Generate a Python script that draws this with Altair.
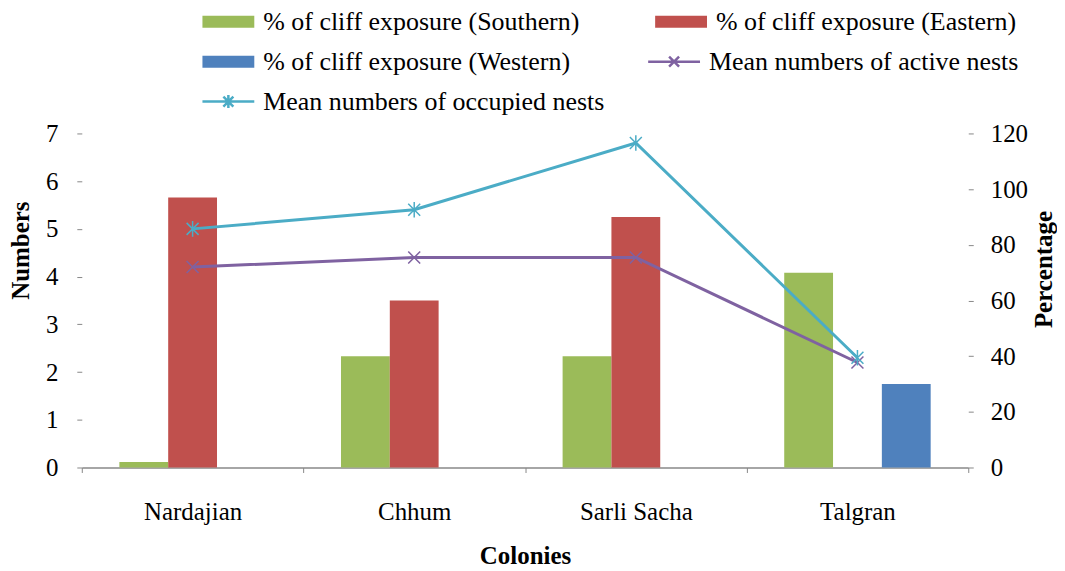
import altair as alt
import pandas as pd

colonies = ["Nardajian", "Chhum", "Sarli Sacha", "Talgran"]
southern = [2, 40, 40, 70]
eastern = [97, 60, 90, 0]
western = [0, 0, 0, 30]
active_nests = [4.2, 4.4, 4.4, 2.2]
occupied_nests = [5.0, 5.4, 6.8, 2.3]

bar_series = ["% of cliff exposure (Southern)", "% of cliff exposure (Eastern)", "% of cliff exposure (Western)"]
line_series = ["Mean numbers of active nests", "Mean numbers of occupied nests"]
bar_colors = ["#9BBB59", "#C0504D", "#4F81BD"]
line_colors = ["#7F62A1", "#4BACC6"]

bar_rows = []
for s, vals in zip(bar_series, [southern, eastern, western]):
    for c, v in zip(colonies, vals):
        bar_rows.append({"colony": c, "series": s, "percentage": v})
bar_df = pd.DataFrame(bar_rows)

line_rows = []
for s, vals in zip(line_series, [active_nests, occupied_nests]):
    for c, v in zip(colonies, vals):
        line_rows.append({"colony": c, "series": s, "numbers": v})
line_df = pd.DataFrame(line_rows)

FONT = "Liberation Serif"
LEGFONT = {"expr": "'Liberation Serif'"}
FS = 25
LFS = 26

X_PATH = "M-1,-1L1,1M-1,1L1,-1"
STAR_PATH = "M-1,-1L1,1M-1,1L1,-1M0,-1.3V1.3"
LEG_RECT = "M-1,-0.6H4.2V0.6H-1Z"
LEG_X = "M-1,0H4.2M1.1,-0.5L2.1,0.5M1.1,0.5L2.1,-0.5"
LEG_STAR = "M-1,0H4.2M1.1,-0.5L2.1,0.5M1.1,0.5L2.1,-0.5M1.6,-0.65V0.65"

x_enc = alt.X(
    "colony:N", sort=colonies,
    scale=alt.Scale(paddingInner=0, paddingOuter=0),
    axis=alt.Axis(title="Colonies", labelAngle=0, tickBand="extent", tickSize=5,
                  labelPadding=27, titlePadding=19, domainColor="#888888", domainWidth=1.5,
                  tickColor="#888888", labelFont=FONT, titleFont=FONT, labelFontSize=FS,
                  titleFontSize=FS, titleFontWeight="bold", labelColor="black", titleColor="black"),
)

bars = alt.Chart(bar_df).mark_bar().encode(
    x=x_enc,
    xOffset=alt.XOffset("series:N", sort=bar_series,
                        scale=alt.Scale(domain=bar_series, paddingInner=0, paddingOuter=0.77)),
    y=alt.Y("percentage:Q", scale=alt.Scale(domain=[0, 120], nice=False),
            axis=alt.Axis(orient="right", title="Percentage", values=[0, 20, 40, 60, 80, 100, 120],
                          titleAngle=270, titleBaseline="top", titleY=136, domain=False, grid=False,
                          tickSize=5, tickColor="#888888",
                          labelPadding=17, titlePadding=4, labelFont=FONT, titleFont=FONT,
                          labelFontSize=FS, titleFontSize=FS, titleFontWeight="bold",
                          labelColor="black", titleColor="black")),
    color=alt.Color("series:N", sort=bar_series,
                    scale=alt.Scale(domain=bar_series, range=bar_colors),
                    legend=alt.Legend(title=None, orient="none", legendX=118, legendY=-125, columns=2,
                                      values=[bar_series[0], bar_series[2], bar_series[1]],
                                      columnPadding=72, rowPadding=14, labelFont=LEGFONT,
                                      labelFontSize=LFS, labelColor="black", labelLimit=1000,
                                      symbolSize=400, labelOffset=38, symbolType=LEG_RECT,
                                      symbolStrokeWidth=0)),
)

y_left = alt.Y("numbers:Q", scale=alt.Scale(domain=[0, 7], nice=False),
               axis=alt.Axis(orient="left", title="Numbers", values=list(range(8)), domain=False,
                             grid=False, tickSize=5, tickColor="#888888", labelPadding=19,
                             titlePadding=12, titleY=117, labelFont=FONT, titleFont=FONT,
                             labelFontSize=FS, titleFontSize=FS, titleFontWeight="bold",
                             labelColor="black", titleColor="black"))

def line_layer(idx, path, leg_path, lx, ly):
    s = line_series[idx]
    return alt.Chart(line_df).transform_filter(alt.datum.series == s).mark_line(
        strokeWidth=3,
        point=alt.OverlayMarkDef(shape=path, filled=False, size=144, strokeWidth=1.5),
    ).encode(
        x=x_enc,
        y=y_left,
        color=alt.Color("series:N", scale=alt.Scale(domain=[s], range=[line_colors[idx]]),
                        legend=alt.Legend(title=None, orient="none", legendX=lx, legendY=ly,
                                          labelFont=LEGFONT, labelFontSize=LFS, labelColor="black",
                                          labelLimit=1000, symbolSize=400, labelOffset=38,
                                          symbolType=leg_path, symbolStrokeWidth=2.5,
                                          symbolFillColor="transparent")),
    )

active = line_layer(0, X_PATH, LEG_X, 565, -85)
occupied = line_layer(1, STAR_PATH, LEG_STAR, 118, -45)

lines = alt.layer(active, occupied).resolve_scale(color="independent")

chart = alt.layer(bars, lines).resolve_scale(y="independent", color="independent").properties(
    width=889, height=335,
    padding={"left": 0, "top": 0, "right": 0, "bottom": 0},
).configure(font=FONT).configure_view(stroke=None)

chart.save("out.html", embed_options={"renderer": "svg", "actions": False})
